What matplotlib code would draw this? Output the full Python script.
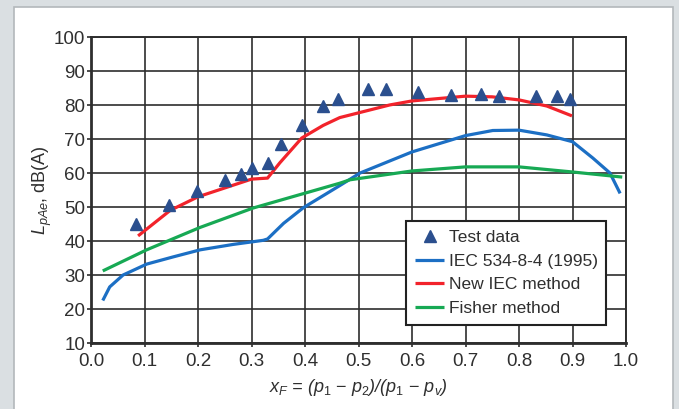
import matplotlib
matplotlib.use("Agg")
import matplotlib.pyplot as plt
from matplotlib.patches import Rectangle
from matplotlib import font_manager

names = {f.name for f in font_manager.fontManager.ttflist}
FAMILY = "Liberation Sans Narrow" if "Liberation Sans Narrow" in names else "Liberation Sans"
plt.rcParams["font.family"] = [FAMILY, "DejaVu Sans"]
plt.rcParams["mathtext.fontset"] = "custom"
plt.rcParams["mathtext.rm"] = FAMILY
plt.rcParams["mathtext.it"] = FAMILY + ":italic"
plt.rcParams["mathtext.bf"] = FAMILY + ":bold"

# Measured test points
test_x = [0.085, 0.145, 0.198, 0.25, 0.28, 0.30, 0.33, 0.355, 0.395, 0.433, 0.462,
          0.518, 0.551, 0.611, 0.673, 0.729, 0.763, 0.832, 0.871, 0.895]
test_y = [45.0, 50.6, 54.6, 57.9, 59.7, 61.5, 63.0, 68.5, 74.0, 79.8, 81.7,
          84.8, 84.8, 83.8, 82.8, 83.1, 82.7, 82.6, 82.7, 81.7]

# IEC 534-8-4 (1995) prediction
iec_x = [0.022, 0.035, 0.06, 0.104, 0.153, 0.204, 0.266, 0.322, 0.33, 0.36, 0.397,
         0.465, 0.503, 0.60, 0.70, 0.751, 0.80, 0.852, 0.90, 0.938, 0.97, 0.989]
iec_y = [22.5, 26.5, 30.0, 33.2, 35.3, 37.4, 39.0, 40.2, 40.6, 45.2, 49.8,
         56.3, 60.0, 66.2, 71.0, 72.5, 72.6, 71.2, 69.2, 64.4, 60.0, 54.0]

# New IEC method prediction
new_x = [0.088, 0.148, 0.20, 0.25, 0.30, 0.33, 0.353, 0.394, 0.434, 0.465,
         0.558, 0.60, 0.70, 0.75, 0.80, 0.852, 0.899]
new_y = [41.5, 49.0, 53.0, 55.6, 58.2, 58.5, 63.0, 70.3, 74.0, 76.3,
         80.0, 81.2, 82.6, 82.4, 81.5, 79.7, 76.8]

# Fisher method prediction
fish_x = [0.022, 0.104, 0.204, 0.303, 0.394, 0.465, 0.484, 0.60, 0.70, 0.80, 0.90, 0.993]
fish_y = [31.2, 37.4, 44.0, 49.7, 53.8, 57.0, 58.0, 60.6, 61.8, 61.8, 60.3, 58.8]

x_ticks = [0.0, 0.1, 0.2, 0.3, 0.4, 0.5, 0.6, 0.7, 0.8, 0.9, 1.0]
y_ticks = [10, 20, 30, 40, 50, 60, 70, 80, 90, 100]

BLUE = "#1c6fc4"
RED = "#f2232b"
GREEN = "#17a954"
MARK = "#2b4f8e"
GRID = "#2e2e2e"
TEXT = "#2f2f2f"

fig = plt.figure(figsize=(6.79, 4.09), dpi=100, facecolor="#dadfe2")
panel = Rectangle((14 / 679, -0.05), (673 - 14) / 679, (409 - 7) / 409 + 0.05,
                  transform=fig.transFigure, facecolor="white",
                  edgecolor="#b3b8bb", linewidth=1.2, zorder=-10)
fig.patches.append(panel)

ax = fig.add_axes([91 / 679, (409 - 343) / 409, (626 - 91) / 679, (343 - 37) / 409])
ax.set_zorder(5)
ax.set_facecolor("white")

ax.plot(iec_x, iec_y, color=BLUE, lw=2.3, solid_capstyle="butt", label="IEC 534-8-4 (1995)", zorder=3)
ax.plot(new_x, new_y, color=RED, lw=2.3, solid_capstyle="butt", label="New IEC method", zorder=3)
ax.plot(fish_x, fish_y, color=GREEN, lw=2.3, solid_capstyle="butt", label="Fisher method", zorder=3)
ax.plot(test_x, test_y, linestyle="none", marker="^", ms=8.5, color=MARK,
        markeredgecolor=MARK, label="Test data", zorder=4)

ax.set_xlim(0, 1.0)
ax.set_ylim(10, 100)
ax.set_xticks(x_ticks)
ax.set_yticks(y_ticks)
ax.set_xticklabels([f"{v:.1f}" for v in x_ticks])
ax.set_yticklabels([str(v) for v in y_ticks])
ax.grid(True, color=GRID, lw=1.2)
ax.set_axisbelow(True)
for s in ax.spines.values():
    s.set_color(GRID)
    s.set_linewidth(1.4)
ax.spines["left"].set_linewidth(2.0)
ax.spines["bottom"].set_linewidth(2.0)
ax.tick_params(axis="both", length=3, width=1.2, color=GRID, labelsize=13.5,
               labelcolor=TEXT)
ax.tick_params(axis="y", pad=1)
ax.tick_params(axis="x", pad=4)

ax.set_xlabel(r"$x_F$ = ($p_1$ $-$ $p_2$)/($p_1$ $-$ $p_v$)", fontsize=13,
              style="italic", color=TEXT, labelpad=5)
ax.set_ylabel(r"$L_{pAe}$, dB(A)", fontsize=13, color=TEXT, labelpad=0)

handles, labels = ax.get_legend_handles_labels()
order = [3, 0, 1, 2]
leg = ax.legend([handles[i] for i in order], [labels[i] for i in order],
                loc="lower left", bbox_to_anchor=(0.589, 0.059), fontsize=12.5,
                frameon=True, fancybox=False, framealpha=1, edgecolor="#222222",
                handlelength=1.7, handletextpad=0.25, borderpad=0.5, labelspacing=0.5,
                borderaxespad=0)
leg.get_frame().set_linewidth(1.5)
for t in leg.get_texts():
    t.set_color(TEXT)

fig.savefig("out.png", dpi=100, facecolor=fig.get_facecolor())
